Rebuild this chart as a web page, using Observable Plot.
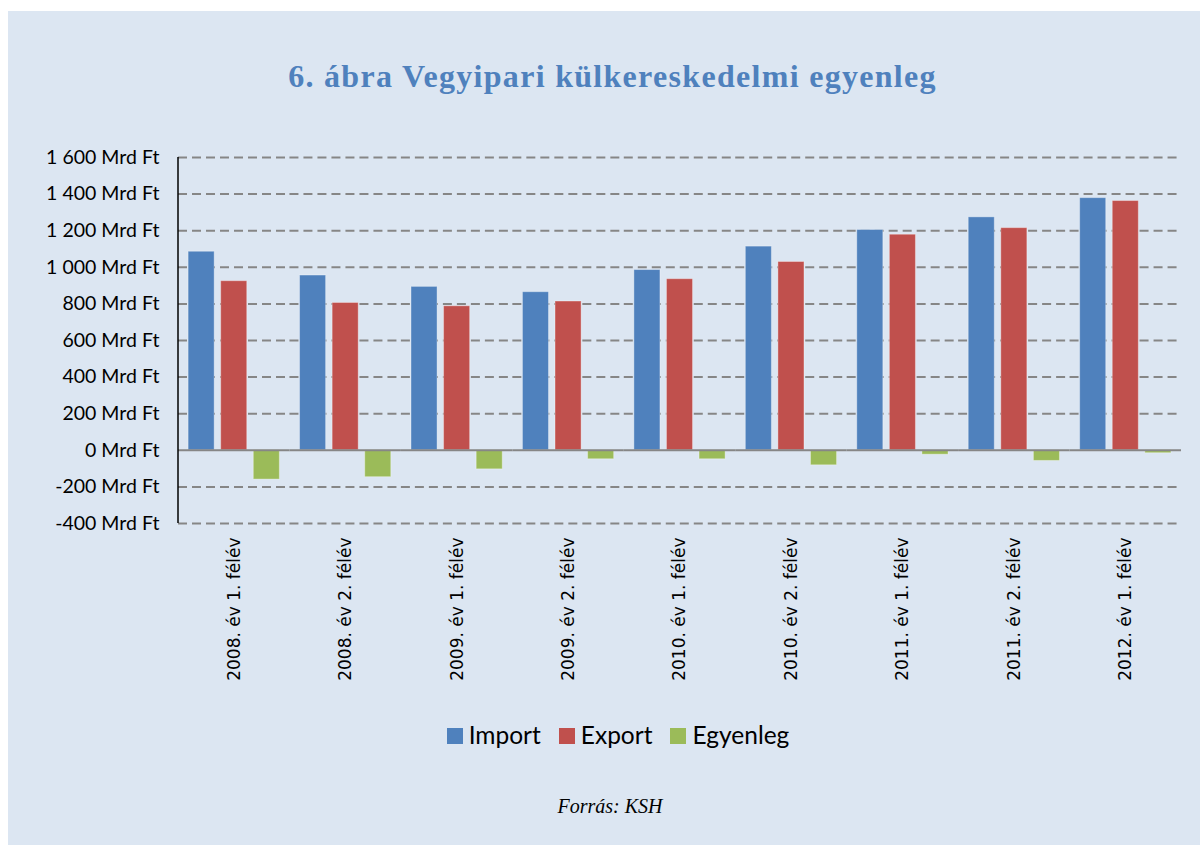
<!DOCTYPE html>
<html>
<head>
<meta charset="utf-8">
<script src="https://cdn.jsdelivr.net/npm/d3@7"></script>
<script src="https://cdn.jsdelivr.net/npm/@observablehq/plot@0.6"></script>
<style>
  html, body { margin: 0; padding: 0; background: #ffffff; width: 1200px; height: 845px; overflow: hidden; }
  #bg { position: absolute; left: 8px; top: 11px; width: 1192px; height: 834px; background: #DCE6F2; }
  #title { position: absolute; left: 0; width: 1225px; top: 60px; text-align: center;
           font-family: "Liberation Serif", serif; font-weight: bold; font-size: 32px; line-height: 32px;
           letter-spacing: 1.3px; color: #4F81BD; }
  #chart { position: absolute; left: 0; top: 130px; }
  #legend { position: absolute; left: 0; width: 1236px; top: 723px; display: flex; justify-content: center;
            font-family: Lato, sans-serif; font-size: 24.5px; line-height: 24.5px; color: #000; }
  #legend .item { display: flex; align-items: baseline; margin: 0 9px; }
  #legend .sw { display: inline-block; width: 16px; height: 16px; margin-right: 6px; }
  #caption { position: absolute; left: 0; width: 1220px; top: 796px; text-align: center;
             font-family: "Liberation Serif", serif; font-style: italic; font-size: 20px; line-height: 20px; color: #000; }
</style>
</head>
<body>
<div id="bg"></div>
<div id="title">6. ábra Vegyipari külkereskedelmi egyenleg</div>
<div id="chart"></div>
<div id="legend"></div>
<div id="caption">Forrás: KSH</div>
<script>
const categories = [
  "2008. év 1. félév", "2008. év 2. félév", "2009. év 1. félév", "2009. év 2. félév",
  "2010. év 1. félév", "2010. év 2. félév", "2011. év 1. félév", "2011. év 2. félév",
  "2012. év 1. félév"
];
const seriesNames = ["Import", "Export", "Egyenleg"];
const seriesColors = ["#4F81BD", "#C0504D", "#9BBB59"];
const importVals  = [1085, 955, 893, 864, 985, 1113, 1204, 1273, 1378];
const exportVals  = [924, 805, 787, 813, 935, 1029, 1178, 1214, 1362];
const balanceVals = [-160, -147, -104, -49, -49, -82, -24, -58, -16];
const yTicks = [-400, -200, 0, 200, 400, 600, 800, 1000, 1200, 1400, 1600];

const seriesVals = [importVals, exportVals, balanceVals];
const data = categories.flatMap((c, i) =>
  seriesNames.map((s, j) => ({cat: c, series: s, value: seriesVals[j][i]})));

const huLocale = d3.formatLocale({decimal: ",", thousands: " ", grouping: [3], currency: ["", " Ft"], minus: "-"});
const fmtNum = huLocale.format(",d");
const yFormat = d => fmtNum(d) + " Mrd Ft";

const plot = Plot.plot({
  width: 1200,
  height: 563,
  marginLeft: 178,
  marginRight: 19,
  marginTop: 27,
  marginBottom: 170,
  style: {background: "transparent", fontFamily: "Lato, sans-serif", fontSize: "19px", color: "#000"},
  fx: {domain: categories, padding: 0, round: false, label: null},
  x: {domain: seriesNames, paddingInner: 0.2, paddingOuter: 0.31, round: false, axis: null},
  y: {domain: [-400, 1600], label: null},
  color: {domain: seriesNames, range: seriesColors},
  marks: [
    Plot.ruleY(yTicks.filter(d => d !== 0), {stroke: "#868686", strokeWidth: 2, strokeDasharray: "9,5"}),
    Plot.barY(data, {fx: "cat", x: "series", y: "value", fill: "series",
                     stroke: "#ffffff", strokeOpacity: 0.35, strokeWidth: 1}),
    Plot.ruleY([0], {stroke: "#868686", strokeWidth: 2}),
    Plot.axisY({ticks: yTicks, tickFormat: yFormat, tickSize: 0, tickPadding: 19,
                fontSize: 19.5, fontFamily: "Lato, sans-serif", label: null}),
    Plot.axisFx({anchor: "bottom", tickRotate: -90, tickSize: 0, tickPadding: 14,
                 fontSize: 17, fontFamily: "DejaVu Sans, sans-serif", label: null})
  ]
});

// vertical y-axis line at the left edge of the plot frame
const ys = plot.scale("y");
d3.select(plot).append("line")
  .attr("x1", 178).attr("x2", 178)
  .attr("y1", ys.apply(1600)).attr("y2", ys.apply(-400))
  .attr("stroke", "#000").attr("stroke-width", 1.5);

document.getElementById("chart").appendChild(plot);

const legend = d3.select("#legend");
seriesNames.forEach((s, i) => {
  const item = legend.append("div").attr("class", "item");
  item.append("span").attr("class", "sw").style("background", seriesColors[i]);
  item.append("span").text(s);
});
</script>
</body>
</html>
